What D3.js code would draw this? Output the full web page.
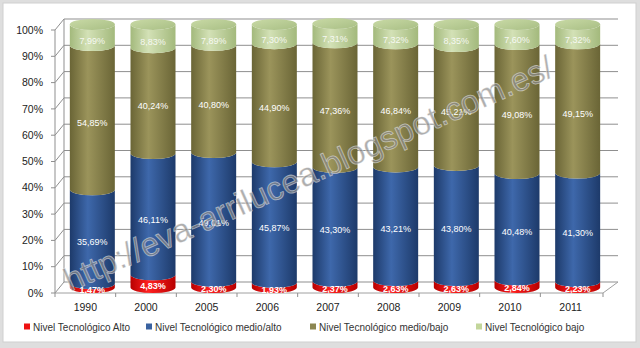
<!DOCTYPE html>
<html>
<head>
<meta charset="utf-8">
<script src="https://cdn.jsdelivr.net/npm/d3@7"></script>
<style>
  body { margin: 0; background: #fff; }
  svg { display: block; font-family: "Liberation Sans", Arial, sans-serif; }
</style>
</head>
<body>
<svg width="640" height="348"></svg>
<script>
var years = ["1990", "2000", "2005", "2006", "2007", "2008", "2009", "2010", "2011"];
var alto      = [1.47, 4.83, 2.30, 1.93, 2.37, 2.63, 2.63, 2.84, 2.23];
var medioAlto = [35.69, 46.11, 49.01, 45.87, 43.30, 43.21, 43.80, 40.48, 41.30];
var medioBajo = [54.85, 40.24, 40.80, 44.90, 47.36, 46.84, 45.21, 49.08, 49.15];
var bajo      = [7.99, 8.83, 7.89, 7.30, 7.31, 7.32, 8.35, 7.60, 7.32];
var seriesNames = ["Nivel Tecnológico Alto", "Nivel Tecnológico medio/alto", "Nivel Tecnológico medio/bajo", "Nivel Tecnológico bajo"];
var yTicks = [0, 10, 20, 30, 40, 50, 60, 70, 80, 90, 100];

var series = [alto, medioAlto, medioBajo, bajo];
var colors = [
  {edge: "#b80000", mid: "#ff2020", key: "#ee1111"},
  {edge: "#1d3a6a", mid: "#3e68ab", key: "#3a62a0"},
  {edge: "#6a6536", mid: "#9b945b", key: "#8c8652"},
  {edge: "#a3b97c", mid: "#d3e1b6", key: "#c3d69b"}
];

var svg = d3.select("svg");

// frame
svg.append("rect").attr("width", 640).attr("height", 348).attr("fill", "#dedede");
svg.append("rect").attr("x", 3).attr("y", 3).attr("width", 633).attr("height", 339)
  .attr("fill", "#fff").attr("stroke", "#cfcfcf");

// gradients
var defs = svg.append("defs");
colors.forEach(function(c, i) {
  var g = defs.append("linearGradient").attr("id", "g" + i).attr("x1", 0).attr("x2", 1).attr("y1", 0).attr("y2", 0);
  g.append("stop").attr("offset", "0%").attr("stop-color", c.edge);
  g.append("stop").attr("offset", "40%").attr("stop-color", c.mid);
  g.append("stop").attr("offset", "100%").attr("stop-color", c.edge);
});
var cap = defs.append("linearGradient").attr("id", "cap").attr("x1", 0).attr("x2", 1).attr("y1", 0).attr("y2", 1);
cap.append("stop").attr("offset", "0%").attr("stop-color", "#c9daa6");
cap.append("stop").attr("offset", "100%").attr("stop-color", "#a8be84");

// geometry
var frontBase = 293, backBase = 282, depthX = 9;
var h = d3.scaleLinear().domain([0, 100]).range([0, 263]);
var x = d3.scaleBand().domain(years).range([55, 601]);
var cylBase = (frontBase + backBase) / 2, cylShift = 7, r = 22.5, ry = 5.5;

// walls and gridlines
var grid = svg.append("g").attr("stroke", "#8f8f8f").attr("fill", "none").attr("stroke-width", 1);
yTicks.forEach(function(t) {
  var yf = frontBase - h(t), yb = backBase - h(t);
  grid.append("line").attr("x1", 55 + depthX).attr("x2", 618).attr("y1", yb).attr("y2", yb);
  grid.append("line").attr("x1", 55).attr("x2", 55 + depthX).attr("y1", yf).attr("y2", yb);
  grid.append("line").attr("x1", 51).attr("x2", 55).attr("y1", yf).attr("y2", yf);
});
grid.append("line").attr("x1", 55).attr("x2", 55).attr("y1", frontBase - h(100)).attr("y2", frontBase);
grid.append("line").attr("x1", 55 + depthX).attr("x2", 55 + depthX).attr("y1", backBase - h(100)).attr("y2", backBase);
// floor
grid.append("path").attr("stroke", "#a0a0a0")
  .attr("d", "M55," + frontBase + "L603," + frontBase + "L618," + backBase);
x.domain().forEach(function(d, i) {
  var xx = x(d);
  grid.append("line").attr("x1", xx).attr("x2", xx).attr("y1", frontBase).attr("y2", frontBase + 4);
});
grid.append("line").attr("x1", 603).attr("x2", 603).attr("y1", frontBase).attr("y2", frontBase + 4);

// y labels
svg.append("g").selectAll("text").data(yTicks).join("text")
  .attr("x", 43).attr("y", function(d) { return frontBase - h(d); })
  .attr("dy", "0.35em").attr("text-anchor", "end")
  .attr("font-size", 10.5).attr("fill", "#222")
  .text(function(d) { return d + "%"; });

// x labels
svg.append("g").selectAll("text").data(years).join("text")
  .attr("x", function(d) { return x(d) + x.bandwidth() / 2; })
  .attr("y", 311).attr("text-anchor", "middle")
  .attr("font-size", 10.5).attr("fill", "#222")
  .text(function(d) { return d; });

// cylinders
var bars = svg.append("g");
years.forEach(function(yr, i) {
  var cx = x(yr) + x.bandwidth() / 2 + cylShift;
  var cum = 0;
  series.forEach(function(s, k) {
    var y0 = cylBase - h(cum), y1 = cylBase - h(cum + s[i]);
    var p = "M" + (cx - r) + "," + y1 +
      "L" + (cx - r) + "," + y0 +
      "A" + r + "," + ry + " 0 0 0 " + (cx + r) + "," + y0 +
      "L" + (cx + r) + "," + y1 +
      "A" + r + "," + ry + " 0 0 1 " + (cx - r) + "," + y1 + "Z";
    bars.append("path").attr("d", p).attr("fill", "url(#g" + k + ")");
    cum += s[i];
  });
  bars.append("ellipse").attr("cx", cx).attr("cy", cylBase - h(cum))
    .attr("rx", r).attr("ry", ry).attr("fill", "url(#cap)");
});

// data labels
var labels = svg.append("g").attr("text-anchor", "middle").attr("fill", "#fff").attr("font-size", 9);
years.forEach(function(yr, i) {
  var cx = x(yr) + x.bandwidth() / 2 + cylShift;
  var cum = 0;
  series.forEach(function(s, k) {
    var mid = cum + s[i] / 2;
    labels.append("text").attr("x", cx).attr("y", frontBase - h(mid) - (k === 0 ? 1 : 0))
      .attr("dy", "0.35em")
      .attr("font-weight", k === 0 ? "bold" : "normal")
      .attr("opacity", k === 3 ? 0.85 : 1)
      .text(s[i].toFixed(2).replace(".", ",") + "%");
    cum += s[i];
  });
});

// legend
var legX = [24, 146, 310, 476];
var leg = svg.append("g");
seriesNames.forEach(function(n, k) {
  leg.append("rect").attr("x", legX[k]).attr("y", 323.5).attr("width", 6).attr("height", 6).attr("fill", colors[k].key);
  leg.append("text").attr("x", legX[k] + 9).attr("y", 327).attr("dy", "0.35em")
    .attr("font-size", 10).attr("fill", "#333").text(n);
});

// watermark
svg.append("text")
  .attr("transform", "translate(70,292) rotate(-24)")
  .attr("font-size", 33).attr("fill", "#8a8a8a").attr("fill-opacity", 0.7)
  .attr("stroke", "#fff").attr("stroke-opacity", 0.5).attr("stroke-width", 0.8)
  .text("http://eva-arrilucea.blogspot.com.es/");
</script>
</body>
</html>
